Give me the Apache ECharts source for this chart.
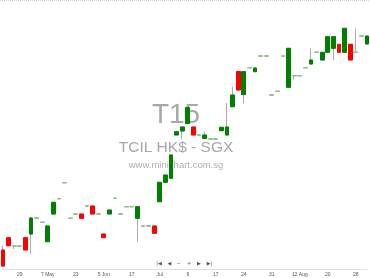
<!DOCTYPE html>
<html><head><meta charset="utf-8">
<script src="https://cdn.jsdelivr.net/npm/echarts@6/dist/echarts.min.js"></script>
<style>html,body{margin:0;padding:0;background:#fff}#c{width:370px;height:278px}</style>
</head><body><div id="c"></div>
<script>
// values in chart units
const opens  = [19,31.3,23,23,31.3,35,51,46.7,27.3,55,70.3,86.3,50.7,55,55,63,63,55,35,55,70.7,55,62.3,62.3,50.7,43,43,43,67.3,86.7,90.7,134,138,145.5,142,134,130.5,130,130,138.3,134,162.3,197.5,174.5,201.3,197.3,213,213,174,177.7,213,181.7,193.3,193.3,201.3,205,216.7,209,216.7,220.7,224.7,216.7,224.7,216.7,233,225];
const closes = [3,23.3,23,23,19,51,51,46.7,43,66.7,70.3,86.3,50.7,55,50.7,63,55,55,31.3,59,70.7,55,62.3,62.3,62.3,43,43,35.7,86.7,94,114,137.3,142,161.5,134,134,134,130,130,141.7,142,174,179,197.3,201.3,201,213,213,174,177.7,213,220.7,193.3,193.3,201.3,209,216.7,216.7,232.3,232.3,216.7,240.7,209,216.7,233,233];
const lows   = [2,23.3,20,23,19,15,51,46.7,27.3,55,70.3,86.3,50.7,55,50.7,63,55,55,31.3,55,70.7,55,62.3,62.3,27.3,43,43,35.7,67.3,86.7,90.7,134,130,145.5,134,134,130.5,130,130,138.3,134,162.3,179,165.7,201.3,197.3,213,213,174,177.7,213,181.7,189.7,193.3,201.3,205,216.7,209,216.7,209,216.7,216.7,209,216.7,233,225];
const highs  = [23.3,31.3,23,23,31.3,51,51,46.7,43,66.7,70.3,86.3,50.7,55,55,63,63,55,35,59,70.7,55,62.3,62.3,62.3,43,43,43,86.7,94,114,137.3,142,161.5,142,134,137.3,130,130,141.7,166,182.3,197.5,197.3,201.3,201,213,213,174,177.7,213,220.7,193.3,193.3,201.3,220.7,216.7,216.7,232.3,232.3,224.7,240.7,224.7,240.7,233,233];
const tickLabels = {3:'29',8:'7 May',13:'23',18:'5 Jun',23:'17',28:'Jul',33:'9',38:'17',43:'24',48:'31',53:'12 Aug',58:'20',63:'28'};
const categories = opens.map((_, i) => String(i));

const full = opens.map((o, i) => [o, closes[i], lows[i], highs[i]]);
const bodies = opens.map((o, i) => [o, closes[i], Math.min(o, closes[i]), Math.max(o, closes[i])]);

const chart = echarts.init(document.getElementById('c'), null, {renderer: 'canvas'});
const navX = [159, 169.5, 178.5, 189, 199, 209.5];
const navT = ['|◀', '◀', '−', '+', '▶', '▶|'];
const F = '"Liberation Sans", Arial, sans-serif';
chart.setOption({
  animation: false,
  backgroundColor: '#fff',
  grid: {left: 1.5, right: 0.6, top: 0, bottom: 9},
  xAxis: {
    type: 'category', data: categories, boundaryGap: false,
    axisLine: {lineStyle: {color: '#e0e0e0', width: 1}},
    axisTick: {show: false},
    axisLabel: {interval: 0, fontSize: 5, color: '#555', margin: 3, fontFamily: F,
      formatter: (v, i) => tickLabels[i] || ''},
    splitLine: {show: false}
  },
  yAxis: {type: 'value', min: 0, max: 269, show: false},
  graphic: [
    {type: 'line', shape: {x1: 0, y1: 0.5, x2: 370, y2: 0.5}, style: {stroke: '#d0d0d0', lineWidth: 1, lineDash: [1, 1]}, z: 0},
    {type: 'text', x: 176, y: 115, z: -1, style: {text: 'T15', fontSize: 28, fill: '#a8a8a8', fontFamily: F, textAlign: 'center', textVerticalAlign: 'middle'}},
    {type: 'text', x: 176, y: 147.5, z: -1, style: {text: 'TCIL HK$ - SGX', fontSize: 15.5, fill: '#a8a8a8', fontFamily: F, textAlign: 'center', textVerticalAlign: 'middle'}},
    {type: 'text', x: 176, y: 165.5, z: -1, style: {text: 'www.minichart.com.sg', fontSize: 9.5, fill: '#b0b0b0', fontFamily: F, textAlign: 'center', textVerticalAlign: 'middle'}}
  ].concat(navT.map((t, k) => ({type: 'text', x: navX[k], y: 263.3, z: 5,
    style: {text: t, fontSize: 5, fill: '#555', fontFamily: '"DejaVu Sans", sans-serif', textAlign: 'center', textVerticalAlign: 'middle'}}))),
  series: [
    {type: 'candlestick', data: full, barWidth: 4.4, clip: false,
      itemStyle: {color: 'transparent', color0: 'transparent', borderColor: '#aaaaaa', borderColor0: '#aaaaaa', borderColorDoji: '#aaaaaa', borderWidth: 1}},
    {type: 'candlestick', data: bodies, barWidth: 4.4, clip: false,
      itemStyle: {color: '#008000', color0: '#ff0000', borderColor: '#008000', borderColor0: '#ff0000', borderColorDoji: '#88c488', borderWidth: 1}}
  ]
});
</script></body></html>
